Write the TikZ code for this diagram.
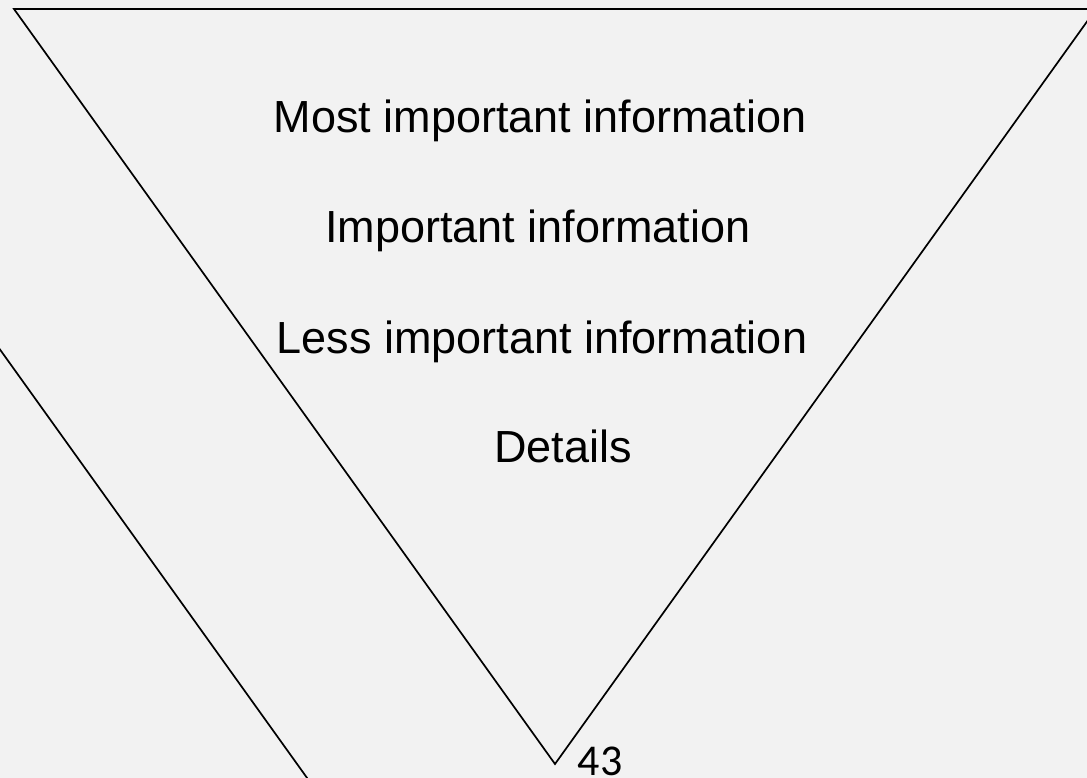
\documentclass[tikz,border=0pt]{standalone}
\usepackage{fontspec}
\setmainfont{Liberation Sans}
\newfontfamily\pagenumfont{Carlito}
\definecolor{bg}{HTML}{F2F2F2}
\begin{document}
\begin{tikzpicture}[x=1pt,y=-1pt,
  lbl/.style={inner sep=0pt, anchor=base, font=\fontsize{45}{54}\selectfont},
  pnum/.style={inner sep=0pt, anchor=base, font=\pagenumfont\fontsize{44}{52}\selectfont},
  edge/.style={line width=1.7pt, draw=black, line join=miter}]
\useasboundingbox (0,0) rectangle (1087,778);
\fill[bg] (0,0) rectangle (1087,778);
\clip (0,0) rectangle (1087,778);
\coordinate (tl) at (14,9);
\coordinate (tr) at (1096,9);
\coordinate (ap) at (555,764);
\draw[edge] (tl) -- (tr) -- (ap) -- cycle;
\coordinate (s1) at (-14,330);
\coordinate (s2) at (315,789);
\draw[edge] (s1) -- (s2);
\node[lbl] (t1) at (540,133) {Most important information};
\node[lbl] (t2) at (538,243) {Important information};
\node[lbl] (t3) at (542,353) {Less important information};
\node[lbl] (t4) at (563,462) {Details};
\node[pnum] (pn) at (600,775) {43};
\end{tikzpicture}
\end{document}
